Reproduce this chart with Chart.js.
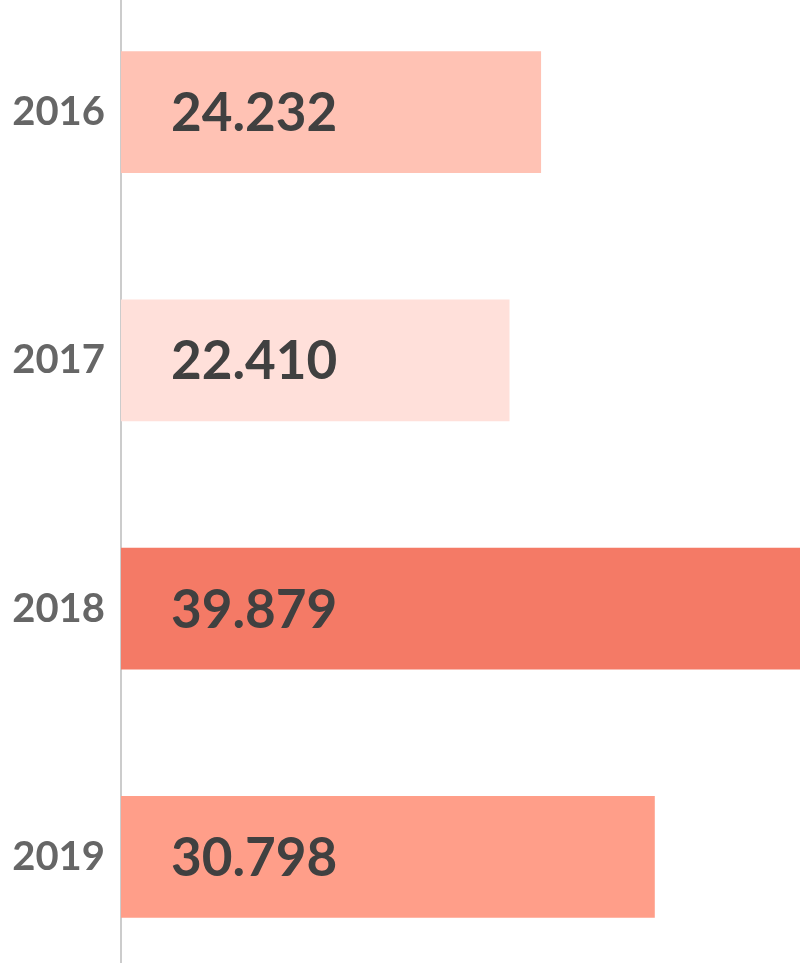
<!DOCTYPE html>
<html>
<head>
<meta charset="utf-8">
<script src="https://cdn.jsdelivr.net/npm/chart.js@4/dist/chart.umd.min.js"></script>
<style>
	html, body { margin: 0; padding: 0; background: #fff; overflow: hidden; }
	#chart-box { position: absolute; left: 0; top: -12px; width: 800px; height: 993px; }
</style>
</head>
<body>
<div id="chart-box"><canvas id="bar-chart-canvas"></canvas></div>
<script>
// values (thousands)
var years = ['2016', '2017', '2018', '2019'];
var values = [24.232, 22.410, 39.879, 30.798];
var barColors = ['#ffc2b4', '#ffe0da', '#f47a66', '#ff9e89'];

var valueLabelPlugin = {
	id: 'valueLabels',
	afterDatasetsDraw: function(chart) {
		var ctx = chart.ctx;
		var meta = chart.getDatasetMeta(0);
		ctx.save();
		ctx.font = 'bold 53px Lato';
		ctx.fillStyle = '#404040';
		ctx.textAlign = 'left';
		ctx.textBaseline = 'middle';
		meta.data.forEach(function(bar, i) {
			ctx.fillText(values[i].toFixed(3), bar.base + 50, bar.y + 2);
		});
		ctx.restore();
	}
};

window.onload = function() {
	window.barChart = new Chart(document.getElementById('bar-chart-canvas'), {
		type: 'bar',
		data: {
			labels: years,
			datasets: [{
				data: values,
				backgroundColor: barColors,
				borderWidth: 0,
				barThickness: 121
			}]
		},
		options: {
			indexAxis: 'y',
			responsive: true,
			maintainAspectRatio: false,
			animation: false,
			layout: { padding: 0 },
			plugins: {
				legend: { display: false },
				tooltip: { enabled: false }
			},
			scales: {
				x: {
					display: false,
					min: 0,
					max: 39.2
				},
				y: {
					afterFit: function(scale) {
						scale.width = 121;
						scale.paddingTop = 0;
						scale.paddingBottom = 0;
					},
					grid: { display: false, drawTicks: false },
					border: { display: true, color: '#cccccc', width: 2 },
					ticks: {
						padding: 16,
						color: '#666666',
						font: { family: 'Lato', weight: 'bold', size: 40 }
					}
				}
			}
		},
		plugins: [valueLabelPlugin]
	});
};
</script>
</body>
</html>
